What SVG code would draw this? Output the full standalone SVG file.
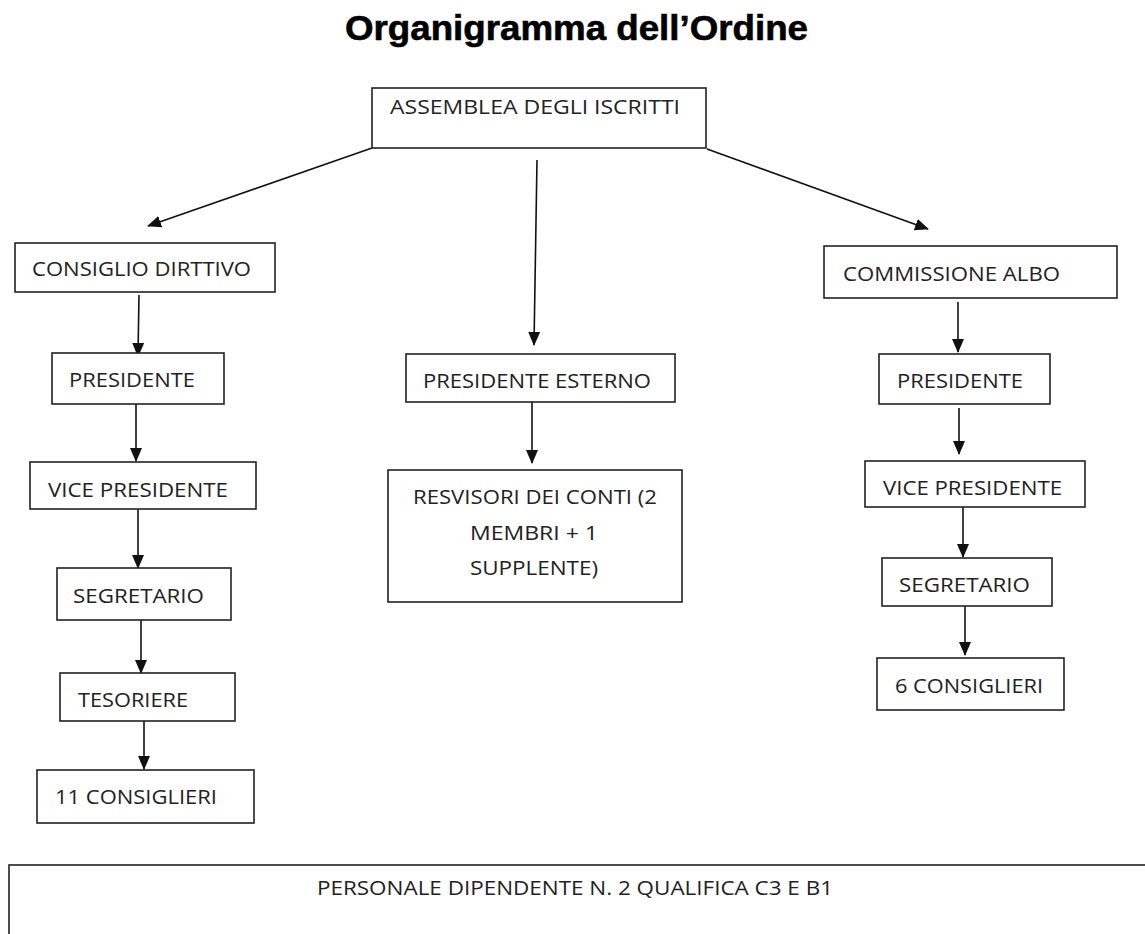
<svg xmlns="http://www.w3.org/2000/svg" width="1145" height="934" viewBox="0 0 1145 934">
<style>
.box{fill:#fff;stroke:#222;stroke-width:1.6}
.t{font-family:"Open Sans","Liberation Sans",sans-serif;font-size:19.5px;fill:#222}
.title{font-family:"Liberation Sans",Arial,sans-serif;font-weight:bold;font-size:35px;fill:#000;stroke:#000;stroke-width:0.6}
.c{stroke:#111;stroke-width:1.6;fill:none;marker-end:url(#ah)}
</style>
<defs>
<marker id="ah" markerUnits="userSpaceOnUse" markerWidth="14" markerHeight="14" viewBox="0 0 14 14" refX="13" refY="7" orient="auto">
<path d="M0,1 L14,7 L0,13 Z" fill="#111"/>
</marker>
</defs>
<rect width="1145" height="934" fill="#fff"/>
<text class="title" x="345" y="40" textLength="463" lengthAdjust="spacingAndGlyphs">Organigramma dell’Ordine</text>

<g id="connectors">
<line class="c" x1="372" y1="148" x2="148" y2="226"/>
<line class="c" x1="537" y1="160" x2="534" y2="345"/>
<line class="c" x1="707" y1="149" x2="928" y2="229"/>
<line class="c" x1="139" y1="295" x2="138" y2="356"/>
<line class="c" x1="136" y1="404" x2="136" y2="461"/>
<line class="c" x1="138" y1="509" x2="138" y2="568"/>
<line class="c" x1="141" y1="613" x2="141" y2="673"/>
<line class="c" x1="144" y1="721" x2="144" y2="769"/>
<line class="c" x1="532" y1="402" x2="532" y2="463"/>
<line class="c" x1="958" y1="302" x2="958" y2="352"/>
<line class="c" x1="959" y1="408" x2="959" y2="454"/>
<line class="c" x1="963" y1="507" x2="963" y2="557"/>
<line class="c" x1="965" y1="606" x2="965" y2="655"/>
</g>

<g id="assemblea"><rect class="box" x="372" y="88" width="334" height="60"/>
<text class="t" x="390" y="114" textLength="290" lengthAdjust="spacingAndGlyphs">ASSEMBLEA DEGLI ISCRITTI</text></g>

<g id="consiglio"><rect class="box" x="15" y="243" width="260" height="49"/>
<text class="t" x="32" y="276" textLength="219" lengthAdjust="spacingAndGlyphs">CONSIGLIO DIRTTIVO</text></g>
<g id="cd-presidente"><rect class="box" x="52" y="353" width="172" height="51"/>
<text class="t" x="69" y="387" textLength="126" lengthAdjust="spacingAndGlyphs">PRESIDENTE</text></g>
<g id="cd-vice"><rect class="box" x="30" y="462" width="226" height="47"/>
<text class="t" x="48" y="497" textLength="180" lengthAdjust="spacingAndGlyphs">VICE PRESIDENTE</text></g>
<g id="cd-segretario"><rect class="box" x="57" y="568" width="174" height="52"/>
<text class="t" x="73" y="603" textLength="131" lengthAdjust="spacingAndGlyphs">SEGRETARIO</text></g>
<g id="cd-tesoriere"><rect class="box" x="60" y="673" width="175" height="48"/>
<text class="t" x="78" y="707" textLength="110" lengthAdjust="spacingAndGlyphs">TESORIERE</text></g>
<g id="cd-consiglieri"><rect class="box" x="37" y="770" width="217" height="53"/>
<text class="t" x="55" y="804" textLength="162" lengthAdjust="spacingAndGlyphs">11 CONSIGLIERI</text></g>

<g id="presidente-esterno"><rect class="box" x="406" y="354" width="269" height="48"/>
<text class="t" x="423" y="388" textLength="228" lengthAdjust="spacingAndGlyphs">PRESIDENTE ESTERNO</text></g>
<g id="revisori"><rect class="box" x="388" y="470" width="294" height="132"/>
<text class="t" x="413" y="504" textLength="244" lengthAdjust="spacingAndGlyphs">RESVISORI DEI CONTI (2</text>
<text class="t" x="470" y="540" textLength="128" lengthAdjust="spacingAndGlyphs">MEMBRI + 1</text>
<text class="t" x="470" y="575" textLength="128" lengthAdjust="spacingAndGlyphs">SUPPLENTE)</text></g>

<g id="commissione"><rect class="box" x="824" y="246" width="293" height="52"/>
<text class="t" x="843" y="281" textLength="217" lengthAdjust="spacingAndGlyphs">COMMISSIONE ALBO</text></g>
<g id="ca-presidente"><rect class="box" x="879" y="354" width="171" height="50"/>
<text class="t" x="897" y="388" textLength="126" lengthAdjust="spacingAndGlyphs">PRESIDENTE</text></g>
<g id="ca-vice"><rect class="box" x="865" y="461" width="220" height="46"/>
<text class="t" x="883" y="495" textLength="179" lengthAdjust="spacingAndGlyphs">VICE PRESIDENTE</text></g>
<g id="ca-segretario"><rect class="box" x="882" y="558" width="170" height="48"/>
<text class="t" x="899" y="592" textLength="131" lengthAdjust="spacingAndGlyphs">SEGRETARIO</text></g>
<g id="ca-consiglieri"><rect class="box" x="877" y="658" width="187" height="52"/>
<text class="t" x="895" y="693" textLength="148" lengthAdjust="spacingAndGlyphs">6 CONSIGLIERI</text></g>

<g id="personale"><rect class="box" x="9" y="865" width="1150" height="90"/>
<text class="t" x="317" y="895" textLength="516" lengthAdjust="spacingAndGlyphs">PERSONALE DIPENDENTE N. 2 QUALIFICA C3 E B1</text></g>
</svg>
